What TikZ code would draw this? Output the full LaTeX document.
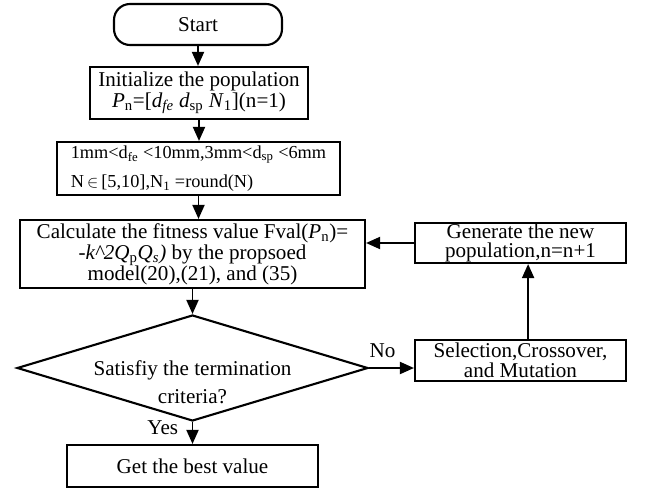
\documentclass[tikz,border=0pt]{standalone}
\usepackage{fontspec}
\setmainfont{Liberation Serif}
\usetikzlibrary{shapes.geometric, arrows.meta, positioning}

\begin{document}
\begin{tikzpicture}[
            box/.style={draw=black, line width=1.5pt, align=center, inner sep=1pt, font=\fontsize{15}{15}\selectfont},
            term/.style={box, rounded corners=0.4cm},
            decide/.style={box, diamond, inner sep=0pt},
            lbl/.style={font=\fontsize{15}{16}\selectfont, inner sep=1pt},
            arr/.style={-{Triangle[length=0.35cm, width=0.3cm]}, line width=1.3pt}
        ]
            \useasboundingbox (0,0) rectangle (16.15,-12.25);
            % main column
            \node[term, minimum width=4.2cm, minimum height=1.025cm] (start) at (4.95,-0.6125) {Start};
            \node[box, minimum width=5.45cm, minimum height=1.3cm] (init) at (4.975,-2.325) {Initialize the population\\\textit{P}\textsubscript{n}=[\textit{d}\textsubscript{\textit{fe}} \textit{d}\textsubscript{sp} \textit{N}\textsubscript{1}](n=1)};
            \node[box, minimum width=7.075cm, minimum height=1.325cm, align=left, inner sep=0pt, font=\fontsize{13}{13}\selectfont] (range) at (4.9625,-4.2125) {1mm<d\textsubscript{fe} <10mm,3mm<d\textsubscript{sp} <6mm\\[8pt]N\,$\in$\,[5,10],N\textsubscript{1} =round(N)};
            \node[box, minimum width=8.625cm, minimum height=1.7cm] (calc) at (4.8125,-6.35) {Calculate the fitness value Fval(\textit{P}\textsubscript{n})=\\-\textit{k\^{}2Q}\textsubscript{p}\textit{Q}\textsubscript{\textit{s}}\textit{)} by the propsoed\\model(20),(21), and (35)};
            \node[decide, minimum width=8.775cm, minimum height=2.65cm,
                label={[lbl, align=center, yshift=-0.35cm]center:Satisfiy the termination\\[4pt]criteria?}] (dec) at (4.8125,-9.2) {};
            \node[box, minimum width=6.275cm, minimum height=1.05cm] (best) at (4.8125,-11.65) {Get the best value};
            % loop back on the right
            \node[box, minimum width=5.275cm, minimum height=1.025cm, inner sep=0pt, font=\fontsize{15}{14}\selectfont] (sel) at (13.0125,-9.0125) {Selection,Crossover,\\and Mutation};
            \node[box, minimum width=5.275cm, minimum height=1.0cm, inner sep=0pt, font=\fontsize{15}{14}\selectfont] (gen) at (13.0125,-6.075) {Generate the new\\population,n=n+1};
            \draw[arr] (start.south) -- (start.south |- init.north);
            \draw[arr] (init.south) -- (init.south |- range.north);
            \draw[arr] (range.south) -- (range.south |- calc.north);
            \draw[arr] (calc.south) -- (calc.south |- dec.north);
            \draw[arr] (dec.south) -- node[lbl, left, pos=0.25, xshift=-0.3cm] {Yes} (best.north);
            \draw[arr] (dec.east) -- node[lbl, above=0.2cm, pos=0.3] {No} (dec.east -| sel.west);
            \draw[arr] ([xshift=0.19cm]sel.north) -- ([xshift=0.19cm]gen.south);
            \draw[arr] (gen.west) -- (gen.west -| calc.east);
        \end{tikzpicture}
\end{document}
